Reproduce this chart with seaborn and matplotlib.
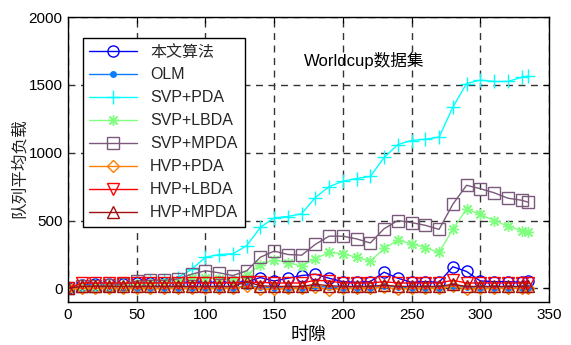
import matplotlib
matplotlib.use("Agg")
import matplotlib.pyplot as plt
import seaborn as sns
import numpy as np
import pandas as pd

sns.set_theme(style="white")
plt.rcParams['font.family'] = ['Liberation Sans', 'Noto Sans CJK SC', 'DejaVu Sans']
plt.rcParams['axes.unicode_minus'] = False

# ---------------- data ----------------
t = [0, 10, 20, 30, 40, 50, 60, 70, 80, 90, 100, 110, 120, 130, 140, 150, 160,
     170, 180, 190, 200, 210, 220, 230, 240, 250, 260, 270, 280, 290, 300, 310,
     320, 330, 335]

ours = [0, 25, 30, 35, 35, 40, 40, 40, 45, 45, 45, 45, 45, 50, 80, 55, 75,
        95, 105, 75, 50, 45, 50, 120, 75, 45, 50, 45, 160, 125, 55, 50,
        50, 45, 55]
olm = [0, 5, 5, 5, 5, 5, 5, 5, 5, 5, 5, 5, 5, 20, 10, 5, 5,
       5, 15, 10, 5, 5, 5, 20, 10, 5, 5, 5, 20, 10, 5, 5,
       5, 5, 5]
svp_pda = [0, 20, 25, 30, 35, 45, 55, 65, 80, 140, 230, 250, 255, 315, 450, 520, 530,
           550, 670, 750, 790, 810, 825, 965, 1060, 1090, 1100, 1115, 1335, 1510, 1535, 1525,
           1525, 1555, 1565]
svp_lbda = [0, 15, 20, 25, 25, 30, 35, 40, 50, 75, 80, 70, 60, 100, 175, 210, 190,
            165, 220, 265, 255, 230, 200, 295, 355, 330, 300, 265, 435, 585, 545, 500,
            460, 425, 415]
svp_mpda = [0, 15, 20, 25, 30, 55, 60, 60, 70, 105, 130, 115, 95, 130, 230, 275, 250,
            245, 325, 385, 385, 365, 335, 440, 500, 485, 465, 435, 620, 760, 735, 705,
            665, 650, 635]
hvp_pda = [0, 0, 0, 0, 0, 0, 0, 0, 0, 0, 0, 0, 0, 15, -5, -5, 0,
           0, 10, -10, 0, 0, 0, 10, -5, 0, 0, 0, 15, -5, 0, 0,
           0, 0, 0]
hvp_lbda = [0, 40, 40, 40, 40, 40, 40, 40, 40, 40, 40, 40, 40, 45, 45, 40, 40,
            40, 60, 55, 40, 40, 40, 50, 40, 40, 40, 40, 60, 40, 40, 40,
            40, 40, 40]
hvp_mpda = [0, 15, 15, 15, 15, 15, 15, 15, 15, 15, 15, 15, 15, 50, 20, 15, 15,
            15, 30, 20, 15, 15, 15, 25, 15, 15, 15, 15, 30, 15, 15, 15,
            15, 15, 15]

labels = ['本文算法', 'OLM', 'SVP+PDA', 'SVP+LBDA', 'SVP+MPDA', 'HVP+PDA', 'HVP+LBDA', 'HVP+MPDA']
series = [ours, olm, svp_pda, svp_lbda, svp_mpda, hvp_pda, hvp_lbda, hvp_mpda]
colors = ['#0000FF', '#0A7CFF', '#00FFFF', '#80FF80', '#7A5A7A', '#FF8000', '#FF0000', '#A01010']
markers = ['o', 'o', '+', (8, 2, 0), 's', 'D', 'v', '^']
msizes = [8, 4, 10, 8, 8, 6, 8, 8]
filled = [False, True, False, False, False, False, False, False]

# ---------------- figure ----------------
fig = plt.figure(figsize=(5.71, 3.45), dpi=100)
ax = fig.add_axes([68/571, 1-302/345, (549-68)/571, (302-17)/345])

for y, lab, c, m, ms, f in zip(series, labels, colors, markers, msizes, filled):
    df = pd.DataFrame({'t': t, 'v': y})
    sns.lineplot(data=df, x='t', y='v', ax=ax, color=c, marker=m, markersize=ms,
                 markerfacecolor=(c if f else 'none'), markeredgecolor=c,
                 markeredgewidth=1.0, linewidth=1.0, label=lab)

ax.set_xlim(0, 350)
ax.set_ylim(-100, 2000)
ax.set_xticks([0, 50, 100, 150, 200, 250, 300, 350])
ax.set_yticks([0, 500, 1000, 1500, 2000])
ax.tick_params(direction='in', top=True, right=True, length=4, width=0.8,
               labelsize=11, colors='black', pad=4)
ax.grid(True, color='#333333', linestyle=(0, (5, 4)), linewidth=1.0)
for s in ax.spines.values():
    s.set_color('black')
    s.set_linewidth(1.0)

ax.set_xlabel('时隙', fontsize=13, labelpad=4, color='black')
ax.set_ylabel('队列平均负载', fontsize=12, color='#222222')
ax.yaxis.set_label_coords(-0.085, 0.47)

ax.text(172, 1680, 'Worldcup数据集', fontsize=12, va='center', ha='left', color='black')

leg = ax.legend(loc='upper left', bbox_to_anchor=(0.031, 0.926), fontsize=11.5,
                frameon=True, fancybox=False, framealpha=1, edgecolor='black',
                handlelength=3.0, labelspacing=0.5, borderpad=0.4, borderaxespad=0)
leg.get_frame().set_linewidth(1.0)

fig.savefig('out.png', dpi=100, facecolor='white')
